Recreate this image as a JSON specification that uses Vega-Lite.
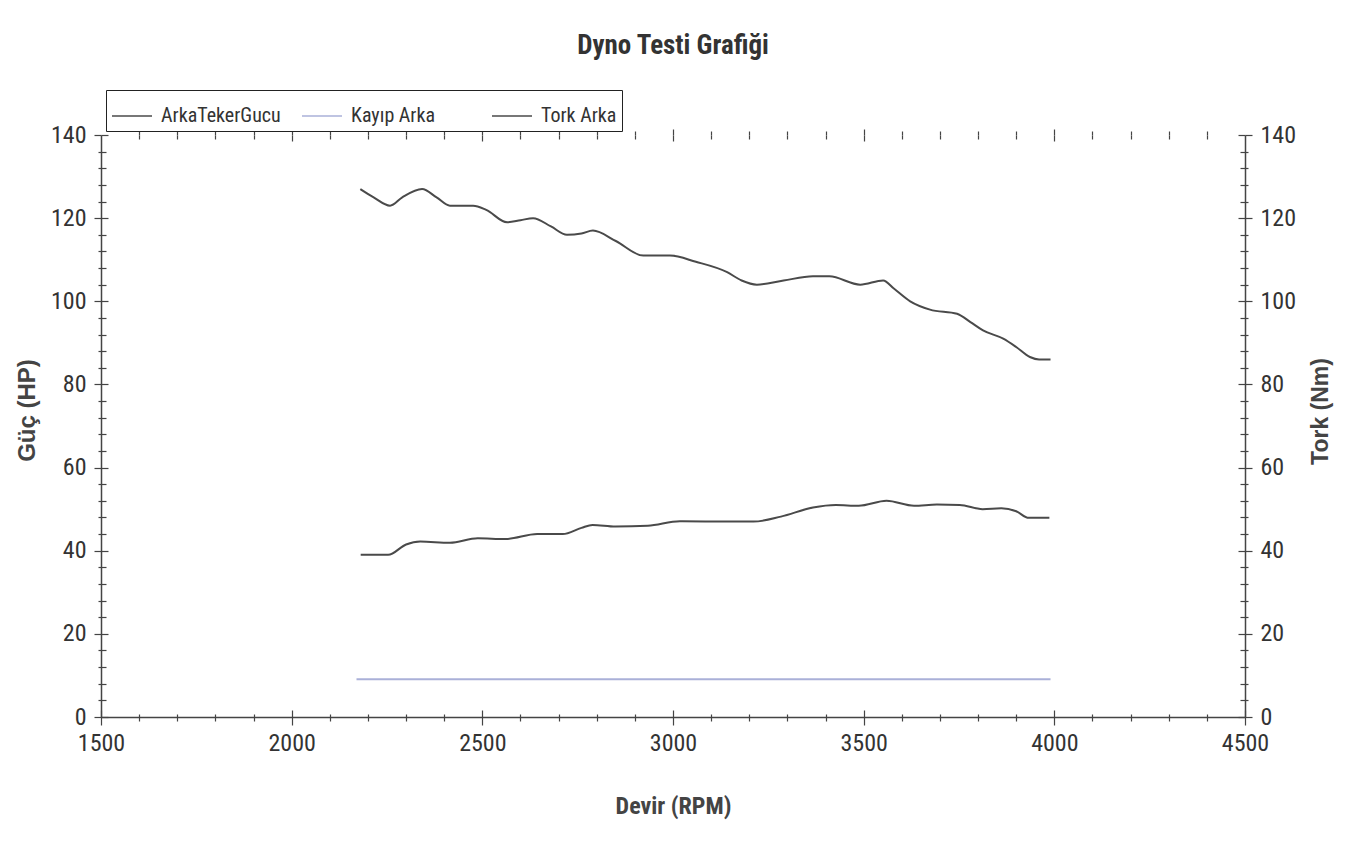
{
  "$schema": "https://vega.github.io/schema/vega-lite/v6.json",
  "autosize": {"type": "none"},
  "width": 1144,
  "height": 582,
  "padding": {"left": 101, "top": 135, "right": 110, "bottom": 130},
  "background": "white",
  "config": {
    "view": {"stroke": null},
    "axis": {
      "domainColor": "#444", "domainWidth": 1.5, "tickColor": "#444", "tickWidth": 1.2,
      "grid": false, "labelFont": "Roboto Condensed, DejaVu Sans Condensed, Liberation Sans, sans-serif",
      "labelFontSize": 24, "labelColor": "#333", "titleColor": "#444"
    }
  },
  "title": {
    "text": "Dyno Testi Grafiği", "anchor": "middle", "frame": "group",
    "font": "Roboto Condensed, DejaVu Sans Condensed, Liberation Sans, sans-serif", "fontSize": 27,
    "fontWeight": "bold", "color": "#333", "offset": 30
  },
  "data": {
    "values": [
      {"rpm": 2181, "series": "ArkaTekerGucu", "value": 39.0},
      {"rpm": 2253, "series": "ArkaTekerGucu", "value": 39.0},
      {"rpm": 2300, "series": "ArkaTekerGucu", "value": 41.5},
      {"rpm": 2337, "series": "ArkaTekerGucu", "value": 42.2},
      {"rpm": 2415, "series": "ArkaTekerGucu", "value": 41.9},
      {"rpm": 2488, "series": "ArkaTekerGucu", "value": 43.0},
      {"rpm": 2560, "series": "ArkaTekerGucu", "value": 42.8},
      {"rpm": 2644, "series": "ArkaTekerGucu", "value": 44.0},
      {"rpm": 2711, "series": "ArkaTekerGucu", "value": 44.0},
      {"rpm": 2760, "series": "ArkaTekerGucu", "value": 45.5},
      {"rpm": 2789, "series": "ArkaTekerGucu", "value": 46.2},
      {"rpm": 2849, "series": "ArkaTekerGucu", "value": 45.8},
      {"rpm": 2934, "series": "ArkaTekerGucu", "value": 46.0},
      {"rpm": 3018, "series": "ArkaTekerGucu", "value": 47.1},
      {"rpm": 3150, "series": "ArkaTekerGucu", "value": 47.0},
      {"rpm": 3211, "series": "ArkaTekerGucu", "value": 47.0},
      {"rpm": 3283, "series": "ArkaTekerGucu", "value": 48.2},
      {"rpm": 3367, "series": "ArkaTekerGucu", "value": 50.4},
      {"rpm": 3427, "series": "ArkaTekerGucu", "value": 51.0},
      {"rpm": 3487, "series": "ArkaTekerGucu", "value": 50.8},
      {"rpm": 3560, "series": "ArkaTekerGucu", "value": 52.0},
      {"rpm": 3632, "series": "ArkaTekerGucu", "value": 50.8},
      {"rpm": 3692, "series": "ArkaTekerGucu", "value": 51.1},
      {"rpm": 3752, "series": "ArkaTekerGucu", "value": 51.0},
      {"rpm": 3812, "series": "ArkaTekerGucu", "value": 50.0},
      {"rpm": 3861, "series": "ArkaTekerGucu", "value": 50.2},
      {"rpm": 3900, "series": "ArkaTekerGucu", "value": 49.5},
      {"rpm": 3933, "series": "ArkaTekerGucu", "value": 47.9},
      {"rpm": 3987, "series": "ArkaTekerGucu", "value": 47.9},
      {"rpm": 2170, "series": "Kayıp Arka", "value": 9.1},
      {"rpm": 3990, "series": "Kayıp Arka", "value": 9.1},
      {"rpm": 2180, "series": "Tork Arka", "value": 127.0},
      {"rpm": 2215, "series": "Tork Arka", "value": 125.0},
      {"rpm": 2258, "series": "Tork Arka", "value": 123.0},
      {"rpm": 2290, "series": "Tork Arka", "value": 125.0},
      {"rpm": 2342, "series": "Tork Arka", "value": 127.0},
      {"rpm": 2380, "series": "Tork Arka", "value": 125.0},
      {"rpm": 2415, "series": "Tork Arka", "value": 123.0},
      {"rpm": 2476, "series": "Tork Arka", "value": 123.0},
      {"rpm": 2510, "series": "Tork Arka", "value": 122.0},
      {"rpm": 2565, "series": "Tork Arka", "value": 119.0},
      {"rpm": 2600, "series": "Tork Arka", "value": 119.5},
      {"rpm": 2633, "series": "Tork Arka", "value": 120.0},
      {"rpm": 2680, "series": "Tork Arka", "value": 118.0},
      {"rpm": 2722, "series": "Tork Arka", "value": 116.0},
      {"rpm": 2760, "series": "Tork Arka", "value": 116.3},
      {"rpm": 2790, "series": "Tork Arka", "value": 117.0},
      {"rpm": 2850, "series": "Tork Arka", "value": 114.5},
      {"rpm": 2922, "series": "Tork Arka", "value": 111.0},
      {"rpm": 2992, "series": "Tork Arka", "value": 111.0},
      {"rpm": 3060, "series": "Tork Arka", "value": 109.5},
      {"rpm": 3142, "series": "Tork Arka", "value": 107.0},
      {"rpm": 3180, "series": "Tork Arka", "value": 105.0},
      {"rpm": 3220, "series": "Tork Arka", "value": 104.0},
      {"rpm": 3290, "series": "Tork Arka", "value": 105.0},
      {"rpm": 3367, "series": "Tork Arka", "value": 106.0},
      {"rpm": 3410, "series": "Tork Arka", "value": 106.0},
      {"rpm": 3491, "series": "Tork Arka", "value": 104.0},
      {"rpm": 3551, "series": "Tork Arka", "value": 105.0},
      {"rpm": 3580, "series": "Tork Arka", "value": 103.0},
      {"rpm": 3622, "series": "Tork Arka", "value": 100.0},
      {"rpm": 3674, "series": "Tork Arka", "value": 98.0},
      {"rpm": 3745, "series": "Tork Arka", "value": 97.0},
      {"rpm": 3780, "series": "Tork Arka", "value": 95.0},
      {"rpm": 3813, "series": "Tork Arka", "value": 93.0},
      {"rpm": 3866, "series": "Tork Arka", "value": 91.0},
      {"rpm": 3900, "series": "Tork Arka", "value": 89.0},
      {"rpm": 3936, "series": "Tork Arka", "value": 86.6},
      {"rpm": 3960, "series": "Tork Arka", "value": 86.0},
      {"rpm": 3990, "series": "Tork Arka", "value": 86.0}
    ]
  },
  "resolve": {"scale": {"y": "independent"}, "axis": {"x": "independent", "y": "independent"}},
  "layer": [
    {
      "transform": [{"filter": "datum.series !== 'Tork Arka'"}],
      "mark": {"type": "line", "interpolate": "monotone", "strokeWidth": 2},
      "encoding": {
        "x": {
          "field": "rpm", "type": "quantitative",
          "scale": {"domain": [1500, 4500], "nice": false, "zero": false},
          "axis": {
            "orient": "bottom", "title": "Devir (RPM)",
            "values": [1500,1600,1700,1800,1900,2000,2100,2200,2300,2400,2500,2600,2700,2800,2900,3000,3100,3200,3300,3400,3500,3600,3700,3800,3900,4000,4100,4200,4300,4400,4500],
            "format": "d",
            "labelExpr": "datum.value % 500 === 0 ? datum.label : ''",
            "tickSize": {"condition": {"test": "datum.value % 500 === 0", "value": 8}, "value": 4},
            "labelPadding": 6, "labelFlush": false, "labelOverlap": false,
            "titleFont": "Roboto Condensed, DejaVu Sans Condensed, Liberation Sans, sans-serif", "titleFontSize": 24,
            "titleFontWeight": "bold", "titleX": 572, "titleY": 96, "titleBaseline": "alphabetic"
          }
        },
        "y": {
          "field": "value", "type": "quantitative",
          "scale": {"domain": [0, 140], "nice": false},
          "axis": {
            "orient": "left", "title": "Güç (HP)",
            "values": [0,4,8,12,16,20,24,28,32,36,40,44,48,52,56,60,64,68,72,76,80,84,88,92,96,100,104,108,112,116,120,124,128,132,136,140],
            "labelExpr": "datum.value % 20 === 0 ? datum.label : ''",
            "tickSize": {"condition": {"test": "datum.value % 20 === 0", "value": 7}, "value": 3},
            "labelPadding": 8, "labelOverlap": false, "labelFlush": false,
            "titleFont": "Liberation Sans, sans-serif", "titleFontSize": 24, "titleFontWeight": "bold",
            "titleAngle": -90, "titleX": -74, "titleY": 275, "titleAlign": "center", "titleBaseline": "middle"
          }
        },
        "color": {
          "field": "series", "type": "nominal",
          "scale": {"domain": ["ArkaTekerGucu", "Kayıp Arka", "Tork Arka"], "range": ["#4a4a4a", "#aab0d8", "#4a4a4a"]},
          "legend": {
            "title": null, "orient": "none", "legendX": 5, "legendY": -45,
            "direction": "horizontal", "columns": 3, "gridAlign": "all", "columnPadding": 18,
            "symbolType": "stroke", "symbolSize": 1600, "symbolStrokeWidth": 1.5,
            "labelFont": "Roboto Condensed, DejaVu Sans Condensed, Liberation Sans, sans-serif", "labelFontSize": 20,
            "labelColor": "#333", "labelOffset": 8, "labelLimit": 300,
            "strokeColor": "#222", "fillColor": "white", "padding": 5
          }
        }
      }
    },
    {
      "transform": [{"filter": "datum.series === 'Tork Arka'"}],
      "mark": {"type": "line", "interpolate": "monotone", "strokeWidth": 2},
      "encoding": {
        "x": {
          "field": "rpm", "type": "quantitative",
          "scale": {"domain": [1500, 4500], "nice": false, "zero": false},
          "axis": {
            "orient": "top", "title": null, "labels": false, "domain": false,
            "values": [1600,1700,1800,1900,2000,2100,2200,2300,2400,2500,2600,2700,2800,2900,3000,3100,3200,3300,3400,3500,3600,3700,3800,3900,4000,4100,4200,4300,4400],
            "tickSize": {"condition": {"test": "datum.value % 500 === 0", "value": 6}, "value": 4}
          }
        },
        "y": {
          "field": "value", "type": "quantitative",
          "scale": {"domain": [0, 140], "nice": false},
          "axis": {
            "orient": "right", "title": "Tork (Nm)",
            "values": [0,4,8,12,16,20,24,28,32,36,40,44,48,52,56,60,64,68,72,76,80,84,88,92,96,100,104,108,112,116,120,124,128,132,136,140],
            "labelExpr": "datum.value % 20 === 0 ? datum.label : ''",
            "tickSize": {"condition": {"test": "datum.value % 20 === 0", "value": 7}, "value": 3},
            "labelPadding": 8, "labelOverlap": false, "labelFlush": false,
            "titleFont": "Liberation Sans, sans-serif", "titleFontSize": 23, "titleFontWeight": "bold",
            "titleAngle": -90, "titleX": 75, "titleY": 276, "titleAlign": "center", "titleBaseline": "middle"
          }
        },
        "color": {"field": "series", "type": "nominal"}
      }
    },
    {
      "transform": [{"filter": "datum.series === 'Tork Arka'"}],
      "mark": {"type": "line", "opacity": 0},
      "encoding": {
        "x": {
          "field": "rpm", "type": "quantitative",
          "scale": {"domain": [1500, 4500], "nice": false, "zero": false},
          "axis": {
            "orient": "bottom", "title": null, "labels": false, "domain": false,
            "values": [1500,1600,1700,1800,1900,2000,2100,2200,2300,2400,2500,2600,2700,2800,2900,3000,3100,3200,3300,3400,3500,3600,3700,3800,3900,4000,4100,4200,4300,4400,4500],
            "tickSize": {"condition": {"test": "datum.value % 500 === 0", "value": -7}, "value": -3}
          }
        },
        "y": {
          "field": "value", "type": "quantitative",
          "scale": {"domain": [0, 140], "nice": false},
          "axis": {
            "orient": "left", "title": null, "labels": false, "domain": false,
            "values": [0,4,8,12,16,20,24,28,32,36,40,44,48,52,56,60,64,68,72,76,80,84,88,92,96,100,104,108,112,116,120,124,128,132,136,140],
            "tickSize": {"condition": {"test": "datum.value % 20 === 0", "value": -7}, "value": -5}
          }
        }
      }
    },
    {
      "transform": [{"filter": "datum.series === 'Tork Arka'"}],
      "mark": {"type": "line", "opacity": 0},
      "encoding": {
        "x": {
          "field": "rpm", "type": "quantitative",
          "scale": {"domain": [1500, 4500], "nice": false, "zero": false},
          "axis": {
            "orient": "top", "title": null, "labels": false, "domain": false,
            "values": [1600,1700,1800,1900,2000,2100,2200,2300,2400,2500,2600,2700,2800,2900,3000,3100,3200,3300,3400,3500,3600,3700,3800,3900,4000,4100,4200,4300,4400],
            "tickSize": {"condition": {"test": "datum.value % 500 === 0", "value": -6}, "value": -4}
          }
        },
        "y": {
          "field": "value", "type": "quantitative",
          "scale": {"domain": [0, 140], "nice": false},
          "axis": {
            "orient": "right", "title": null, "labels": false, "domain": false,
            "values": [0,4,8,12,16,20,24,28,32,36,40,44,48,52,56,60,64,68,72,76,80,84,88,92,96,100,104,108,112,116,120,124,128,132,136,140],
            "tickSize": {"condition": {"test": "datum.value % 20 === 0", "value": -7}, "value": -5}
          }
        }
      }
    }
  ]
}
